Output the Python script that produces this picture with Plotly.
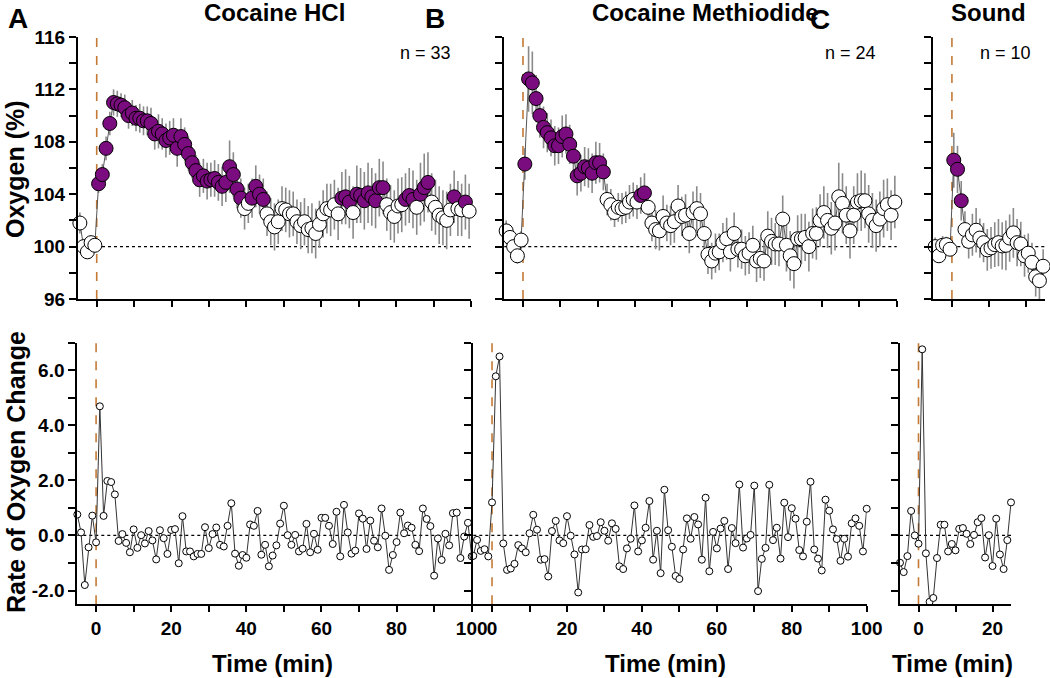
import numpy as np
import plotly.graph_objects as go

W, H = 1050, 678
FONT = "Arial, Liberation Sans, sans-serif"
PURPLE = "#7B0C7F"
ORANGE = "#C47A35"

# ---------------- data ----------------
# top panels: oxygen (%) per minute (minutes -4..100 for A/B, -4..25 for C), plotted at mid-minute
top_min_ab = list(range(-4, 101))
top_min_c = list(range(-4, 26))

oxy_a = [101.8, 100.0, 99.6, 100.3, 100.1,
         104.8, 105.5, 107.5, 109.4, 111.0, 110.9, 110.8, 110.6, 110.0, 110.2,
         109.8, 109.8, 109.6, 109.6, 109.4, 108.6, 108.8, 108.6, 108.1, 108.3,
         108.5, 107.5, 108.4, 107.8, 107.1, 106.4, 105.8, 105.1, 105.4, 105.0,
         105.1, 105.2, 104.9, 104.6, 104.9, 106.1, 105.5, 104.4, 103.7, 102.9,
         103.3, 103.7, 104.6, 104.0, 103.6, 102.5, 101.9, 101.5, 101.9, 102.9,
         102.8, 102.5, 102.5, 101.9, 101.6, 101.9, 101.3, 101.4, 101.0, 101.7,
         102.5, 102.9, 102.8, 103.2, 102.5, 103.7, 103.8, 103.4, 102.6, 104.0,
         103.9, 103.5, 104.1, 103.8, 103.5, 104.5, 104.5, 103.2, 102.6, 102.3,
         103.1, 103.2, 103.6, 103.9, 103.6, 103.0, 104.0, 104.5, 104.9, 103.4,
         103.0, 102.4, 102.2, 102.0, 102.8, 103.8, 102.9, 102.8, 103.4, 102.7]
sem_a = [0.8, 0.6, 0.5, 0.5, 0.4,
         0.7, 0.8, 0.9, 0.9, 1.0, 1.0, 0.9, 1.0, 1.0, 1.0,
         1.0, 1.1, 1.1, 1.1, 1.2, 1.2, 1.3, 1.2, 1.3, 1.3,
         1.3, 1.4, 1.4, 1.3, 1.3, 1.2, 1.2, 1.3, 1.3, 1.4,
         1.3, 1.4, 1.4, 1.5, 1.5, 2.0, 1.7, 1.5, 1.5, 1.6,
         1.5, 1.5, 1.6, 1.5, 1.6, 1.7, 1.8, 1.8, 1.7, 1.7,
         1.7, 1.8, 1.7, 1.7, 1.8, 1.8, 1.8, 1.9, 1.9, 1.8,
         1.8, 1.9, 2.0, 1.9, 2.0, 2.0, 2.1, 2.0, 2.0, 2.2,
         2.1, 2.2, 2.3, 2.2, 2.1, 2.2, 2.0, 2.0, 2.1, 2.0,
         2.1, 2.1, 2.0, 2.1, 2.2, 2.1, 2.4, 2.6, 2.3, 2.2,
         2.1, 2.2, 2.1, 2.2, 2.0, 2.0, 2.1, 2.0, 2.1, 2.1]
sig_a = (list(range(1, 40)) + [42, 43, 44, 45, 66, 67, 68]
         + list(range(70, 78)) + [83, 84, 85, 87, 88, 89, 96, 99])

oxy_b = [101.2, 100.7, 100.0, 99.3, 100.5,
         106.3, 112.8, 112.5, 111.3, 110.0, 109.1, 108.7, 108.3, 107.7, 107.7,
         108.4, 108.6, 107.8, 106.9, 105.4, 105.6, 106.1, 106.0, 105.6, 106.4,
         106.4, 105.7, 103.6, 103.2, 102.6, 103.0, 102.9, 103.0, 103.4, 103.6,
         103.4, 103.9, 104.1, 103.0, 101.8, 101.3, 101.2, 102.3, 101.8, 101.6,
         101.9, 103.1, 102.3, 102.4, 101.0, 102.6, 102.9, 102.5, 101.0, 99.4,
         98.9, 99.5, 99.6, 100.3, 100.6, 99.6, 101.0, 99.8, 99.8, 99.3,
         99.5, 100.1, 98.9, 99.1, 98.9, 100.8, 100.4, 100.2, 100.2, 102.1,
         100.1, 99.3, 98.7, 100.6, 100.6, 100.7, 100.0, 101.0, 101.0, 102.0,
         102.6, 102.0, 101.4, 101.8, 103.8, 103.3, 102.4, 101.2, 102.4, 103.4,
         103.5, 103.5, 102.5, 102.0, 101.6, 102.1, 102.9, 103.2, 102.4, 103.4]
sem_b = [0.8, 0.7, 0.7, 0.6, 0.7,
         1.2, 2.5, 2.4, 1.8, 1.7, 1.6, 1.5, 1.4, 1.5, 1.4,
         1.6, 1.5, 1.5, 1.4, 1.5, 1.4, 1.5, 1.5, 1.5, 1.6,
         1.5, 1.4, 1.2, 1.2, 1.1, 1.1, 1.2, 1.2, 1.3, 1.3,
         1.3, 1.4, 1.5, 1.3, 1.4, 1.5, 1.5, 1.6, 1.4, 1.5,
         1.6, 1.6, 1.5, 1.6, 1.5, 1.6, 1.7, 1.6, 1.6, 1.5,
         1.4, 1.5, 1.4, 1.5, 1.6, 1.5, 1.6, 1.4, 1.5, 1.5,
         1.6, 1.5, 1.6, 1.5, 1.5, 1.9, 1.8, 1.6, 1.7, 1.8,
         2.0, 1.9, 1.9, 1.8, 1.9, 1.8, 1.9, 1.9, 2.0, 2.0,
         2.0, 2.1, 2.0, 2.1, 2.6, 2.3, 2.2, 2.1, 2.2, 2.2,
         2.3, 2.1, 2.2, 2.1, 2.0, 2.1, 2.2, 2.0, 1.9, 2.0]
sig_b = list(range(1, 23)) + [32, 33]

oxy_c = [100.0, 99.3, 100.1, 100.15, 99.8,
         106.6, 105.9, 103.5, 101.3, 100.4, 100.9, 101.25, 100.65, 100.3, 99.75,
         99.9, 100.15, 100.3, 100.05, 100.1, 100.65, 101.05, 100.3, 100.2, 99.3,
         99.5, 98.8, 97.7, 97.4, 98.5]
sem_c = [0.7, 0.5, 0.7, 0.6, 0.5,
         2.1, 1.8, 1.5, 1.4, 1.3, 1.6, 1.7, 1.5, 1.5, 1.6,
         1.6, 1.7, 1.8, 1.8, 1.9, 1.8, 1.9, 1.8, 1.7, 1.6,
         1.5, 1.5, 1.5, 1.6, 1.3]
sig_c = [1, 2, 3]

# bottom panels: rate of oxygen change per minute
rate_min_ab = list(range(-5, 101))
rate_min_c = list(range(-5, 26))

rate_a = [0.76, 0.11, -1.80, -0.43, 0.72, -0.25,
          4.69, 0.71, 1.98, 1.94, 1.49, -0.20, 0.05, -0.27, -0.61, 0.22,
          -0.45, 0.01, -0.29, 0.16, -0.18, -0.87, 0.19, -0.10, -0.67, 0.20,
          0.23, -1.01, 0.70, -0.58, -0.58, -0.76, -0.67, -0.67, 0.30, -0.46,
          0.05, 0.29, -0.34, -0.40, 0.35, 1.17, -0.66, -1.10, -0.71, -0.81,
          0.40, 0.35, 0.89, -0.70, -0.34, -1.12, -0.73, -0.36, 0.43, 1.08,
          0.01, -0.34, 0.02, -0.58, -0.48, 0.42, -0.61, 0.06, -0.52, 0.64,
          0.64, 0.35, -0.31, 0.86, -0.76, 1.11, 0.11, -0.66, -0.55, 0.80,
          0.61, -0.49, 0.54, -0.19, -0.43, 0.98, -0.01, -1.25, -0.71, -0.24,
          0.83, 0.08, 0.36, 0.28, -0.34, -0.57, 0.98, 0.60, 0.34, -1.46,
          -0.11, -0.89, 0.06, -0.36, 0.81, 0.83, -0.82, -0.04, 0.46, -0.76]
rate_b = [-0.74, -0.16, -0.56, -0.50, -0.76, 1.20,
          5.78, 6.50, -0.29, -1.25, -1.20, -1.03, -0.35, -0.47, -0.61, 0.08,
          0.75, 0.21, -0.88, -0.86, -1.49, 0.16, 0.53, -0.18, -0.28, 0.70,
          -0.01, -0.69, -2.07, -0.51, -0.50, 0.38, -0.05, -0.02, 0.48, 0.17,
          -0.19, 0.44, 0.24, -1.12, -1.22, -0.47, -0.12, 1.09, -0.58, -0.18,
          0.28, 1.25, -0.88, 0.17, -1.37, 1.66, 0.19, -0.41, -1.47, -1.58,
          -0.51, 0.62, -0.12, 0.67, 0.40, -0.88, 1.37, -1.30, 0.13, -0.47,
          0.25, 0.53, -1.22, 0.27, -0.28, 1.85, -0.44, -0.11, 0.02, 1.81,
          -2.02, -0.85, -0.45, 1.84, -0.17, 0.28, -0.84, 1.19, -0.06, 0.99,
          0.61, -0.53, -0.76, 0.50, 1.95, -0.51, -0.84, -1.27, 1.30, 0.90,
          0.22, -0.13, -0.92, -0.12, -0.77, 0.44, 0.62, 0.35, -0.58, 0.97]
rate_c = [-0.99, -1.33, -0.75, 0.89, 0.00, -0.30,
          6.76, -0.65, -2.41, -2.27, -0.82, 0.39, 0.39, -0.58, -0.31, -0.54,
          0.24, 0.27, 0.06, -0.31, 0.02, 0.48, 0.63, -0.80, 0.01, -1.11,
          0.61, -0.69, -1.22, -0.17, 1.20]

panel_titles = ["Cocaine HCl", "Cocaine Methiodide", "Sound"]
panel_letters = ["A", "B", "C"]
n_labels = ["n = 33", "n = 24", "n = 10"]
oxy_ticks = [96, 100, 104, 108, 112, 116]
rate_ticks = [-2.0, 0.0, 2.0, 4.0, 6.0]

# ---------------- figure ----------------
def fx(p):
    return p / W

def fy(p):
    return 1 - p / H

fig = go.Figure()

top_sets = [(top_min_ab, oxy_a, sem_a, sig_a), (top_min_ab, oxy_b, sem_b, sig_b),
            (top_min_c, oxy_c, sem_c, sig_c)]
for i, (mins, vals, sems, sig) in enumerate(top_sets):
    k = i + 1
    fig.add_trace(go.Scatter(
        x=[m - 0.5 for m in mins], y=vals, mode="lines+markers",
        line=dict(color="#555555", width=1),
        marker=dict(size=14, color=[PURPLE if m in sig else "white" for m in mins],
                    line=dict(color="black", width=1)),
        error_y=dict(type="data", array=sems, color="#8a8a8a", thickness=1.6, width=0),
        xaxis=f"x{k}", yaxis=f"y{k}", cliponaxis=False, showlegend=False))

bot_sets = [(rate_min_ab, rate_a), (rate_min_ab, rate_b), (rate_min_c, rate_c)]
for i, (mins, vals) in enumerate(bot_sets):
    k = i + 4
    fig.add_trace(go.Scatter(
        x=mins, y=vals, mode="lines+markers",
        line=dict(color="#333333", width=1),
        marker=dict(size=7, color="white", line=dict(color="black", width=1)),
        xaxis=f"x{k}", yaxis=f"y{k}", cliponaxis=False, showlegend=False))

top_dom_y = [fy(299), fy(37)]
bot_dom_y = [fy(604.3), fy(342.7)]
x_doms = {1: [fx(78), fx(471)], 2: [fx(504.3), fx(896.7)], 3: [fx(933.3), fx(1045)],
          4: [fx(77.3), fx(471.7)], 5: [fx(473.3), fx(866.7)], 6: [fx(900), fx(1011)]}
x_max = {1: 100, 2: 100, 3: 25, 4: 100, 5: 100, 6: 25}

base = dict(showline=True, linecolor="black", linewidth=2, ticks="outside", ticklen=6,
            tickwidth=2, tickcolor="black", showgrid=False, zeroline=False,
            automargin=False,
            tickfont=dict(family=FONT, size=19, color="black", weight="bold"))

layout = dict(width=W, height=H, margin=dict(l=0, r=0, t=0, b=0, autoexpand=False),
              plot_bgcolor="white", paper_bgcolor="white", showlegend=False)

for k in range(1, 7):
    xm = x_max[k]
    tv = list(range(0, xm + 1, 10))
    tt = [str(v) if v % 20 == 0 else "" for v in tv]
    ax = dict(base, domain=x_doms[k], anchor=f"y{k}", range=[-5, xm],
              tickvals=tv, ticktext=tt, showticklabels=(k >= 4))
    layout[f"xaxis{k}"] = ax
    if k <= 3:
        yv = list(range(96, 117, 2))
        yt = [str(v) if v in oxy_ticks else "" for v in yv]
        ay = dict(base, domain=top_dom_y, anchor=f"x{k}", range=[96, 116],
                  tickvals=yv, ticktext=yt, showticklabels=(k == 1), ticklen=7)
    else:
        yv = list(range(-2, 8))
        yt = [f"{v:.1f}" if v in rate_ticks else "" for v in yv]
        ay = dict(base, domain=bot_dom_y, anchor=f"x{k}", range=[-2.5, 7],
                  tickvals=yv, ticktext=yt, showticklabels=(k == 4), ticklen=7)
    layout[f"yaxis{k}"] = ay

fig.update_layout(**layout)

shapes = []
for k in range(1, 7):
    xr = "x" if k == 1 else f"x{k}"
    yr = "y" if k == 1 else f"y{k}"
    base_y = 100 if k <= 3 else 0
    shapes.append(dict(type="line", xref=f"{xr} domain", yref=yr, x0=0, x1=1,
                       y0=base_y, y1=base_y, layer="below",
                       line=dict(color="black", width=1.2, dash="dot")))
    shapes.append(dict(type="line", xref=xr, yref=f"{yr} domain", x0=0, x1=0,
                       y0=0, y1=1, layer="below",
                       line=dict(color=ORANGE, width=1.6, dash="dash")))
fig.update_layout(shapes=shapes)

ann = []
def text(s, x, y, size, bold=True, xanchor="center", angle=0):
    ann.append(dict(text=s, x=fx(x), y=fy(y), xref="paper", yref="paper",
                    showarrow=False, xanchor=xanchor, yanchor="middle", textangle=angle,
                    font=dict(family=FONT, size=size, color="black",
                              weight="bold" if bold else "normal")))

for s, cx in zip(panel_titles, [274, 705, 988]):
    text(s, cx, 13, 24)
for s, cx, cy in zip(panel_letters, [18, 435, 820], [18, 18, 20]):
    text(s, cx, cy, 28)
for s, rx in zip(n_labels, [453, 878, 1033]):
    text(s, rx, 53, 18, bold=False, xanchor="right")
text("Oxygen (%)", 15, 169, 25, angle=-90)
text("Rate of Oxygen Change", 16, 472, 25, angle=-90)
for cx in [272, 665, 952]:
    text("Time (min)", cx, 663, 24)
fig.update_layout(annotations=ann)

fig.write_html("out.html", config={"displayModeBar": False},
               post_script="document.body.style.margin='0px';document.body.style.overflow='hidden';")
